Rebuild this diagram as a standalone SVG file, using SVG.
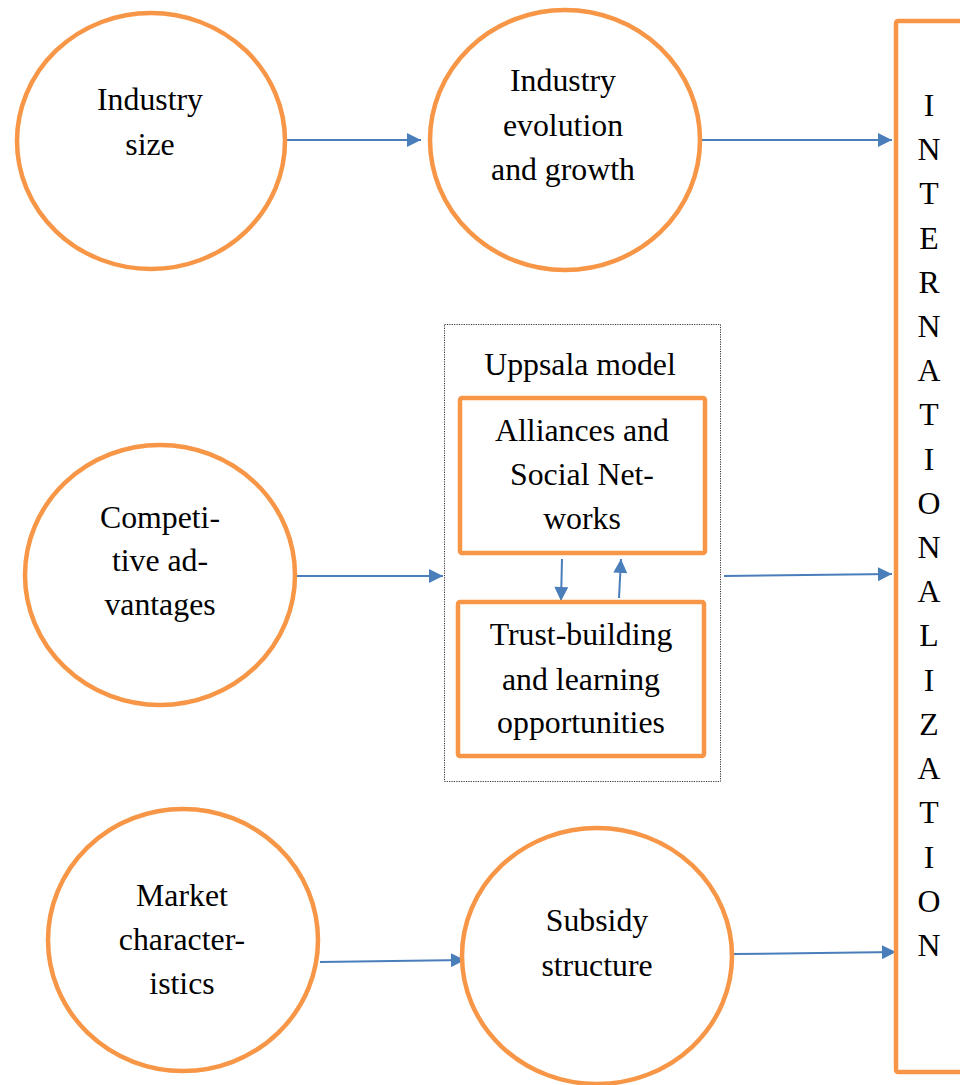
<svg xmlns="http://www.w3.org/2000/svg" width="960" height="1085" viewBox="0 0 960 1085">
  <style>
    .node { fill: #ffffff; stroke: #F79646; stroke-width: 4.5; }
    .frame { fill: none; stroke: #333333; stroke-width: 1; stroke-dasharray: 1.2 1.2; }
    .link { fill: none; stroke: #4A7EBB; stroke-width: 2; marker-end: url(#head); }
    text { font-family: "Liberation Serif", "Times New Roman", serif; font-size: 31.8px; fill: #000000; text-anchor: middle; }
  </style>
  <defs>
    <marker id="head" viewBox="0 0 10 10" refX="10" refY="5" markerUnits="userSpaceOnUse" markerWidth="17" markerHeight="14" orient="auto">
      <path d="M0,0 L10,5 L0,10 Z" fill="#4A7EBB"/>
    </marker>
  </defs>

  <rect width="960" height="1085" fill="#ffffff"/>

  <!-- connectors -->
  <g id="connectors">
    <line class="link" x1="287" y1="140" x2="421" y2="140"/>
    <line class="link" x1="702" y1="140" x2="892" y2="140"/>
    <line class="link" x1="297" y1="576" x2="443" y2="576"/>
    <line class="link" x1="724" y1="576" x2="892" y2="574"/>
    <line class="link" x1="320" y1="962" x2="465" y2="960"/>
    <line class="link" x1="734" y1="954" x2="896" y2="952"/>
    <line class="link" x1="562" y1="559" x2="561" y2="601"/>
    <line class="link" x1="619" y1="598" x2="621" y2="559"/>
  </g>

  <!-- industry size -->
  <g id="industry-size">
    <ellipse class="node" cx="151" cy="141" rx="134" ry="128"/>
    <text x="150" y="110">Industry</text>
    <text x="150" y="155">size</text>
  </g>

  <!-- industry evolution and growth -->
  <g id="industry-evolution">
    <ellipse class="node" cx="565" cy="140" rx="135" ry="130"/>
    <text x="563" y="91">Industry</text>
    <text x="563" y="136">evolution</text>
    <text x="563" y="180">and growth</text>
  </g>

  <!-- competitive advantages -->
  <g id="competitive-advantages">
    <ellipse class="node" cx="160" cy="575" rx="135" ry="130"/>
    <text x="160" y="528">Competi-</text>
    <text x="160" y="571">tive ad-</text>
    <text x="160" y="615">vantages</text>
  </g>

  <!-- Uppsala model frame -->
  <g id="uppsala-model">
    <rect class="frame" x="444.5" y="324.5" width="276" height="457"/>
    <text x="580" y="375">Uppsala model</text>
  </g>

  <g id="alliances">
    <rect class="node" x="460" y="398" width="245" height="155" rx="2"/>
    <text x="582" y="441">Alliances and</text>
    <text x="582" y="485">Social Net-</text>
    <text x="582" y="529">works</text>
  </g>

  <g id="trust-building">
    <rect class="node" x="458" y="602" width="246" height="154" rx="2"/>
    <text x="581" y="645">Trust-building</text>
    <text x="581" y="690">and learning</text>
    <text x="581" y="733">opportunities</text>
  </g>

  <!-- market characteristics -->
  <g id="market-characteristics">
    <ellipse class="node" cx="183" cy="940" rx="135" ry="131"/>
    <text x="182" y="906">Market</text>
    <text x="182" y="950">character-</text>
    <text x="182" y="994">istics</text>
  </g>

  <!-- subsidy structure -->
  <g id="subsidy-structure">
    <ellipse class="node" cx="597" cy="956" rx="135" ry="128"/>
    <text x="597" y="931">Subsidy</text>
    <text x="597" y="976">structure</text>
  </g>

  <!-- internationalization -->
  <g id="internationalization">
    <rect class="node" x="896" y="21" width="80" height="1051" rx="2"/>
    <text x="929" y="116">I</text>
    <text x="929" y="160">N</text>
    <text x="929" y="204">T</text>
    <text x="929" y="249">E</text>
    <text x="929" y="293">R</text>
    <text x="929" y="337">N</text>
    <text x="929" y="381">A</text>
    <text x="929" y="425">T</text>
    <text x="929" y="470">I</text>
    <text x="929" y="514">O</text>
    <text x="929" y="558">N</text>
    <text x="929" y="602">A</text>
    <text x="929" y="646">L</text>
    <text x="929" y="691">I</text>
    <text x="929" y="735">Z</text>
    <text x="929" y="779">A</text>
    <text x="929" y="823">T</text>
    <text x="929" y="868">I</text>
    <text x="929" y="912">O</text>
    <text x="929" y="956">N</text>
  </g>
</svg>
